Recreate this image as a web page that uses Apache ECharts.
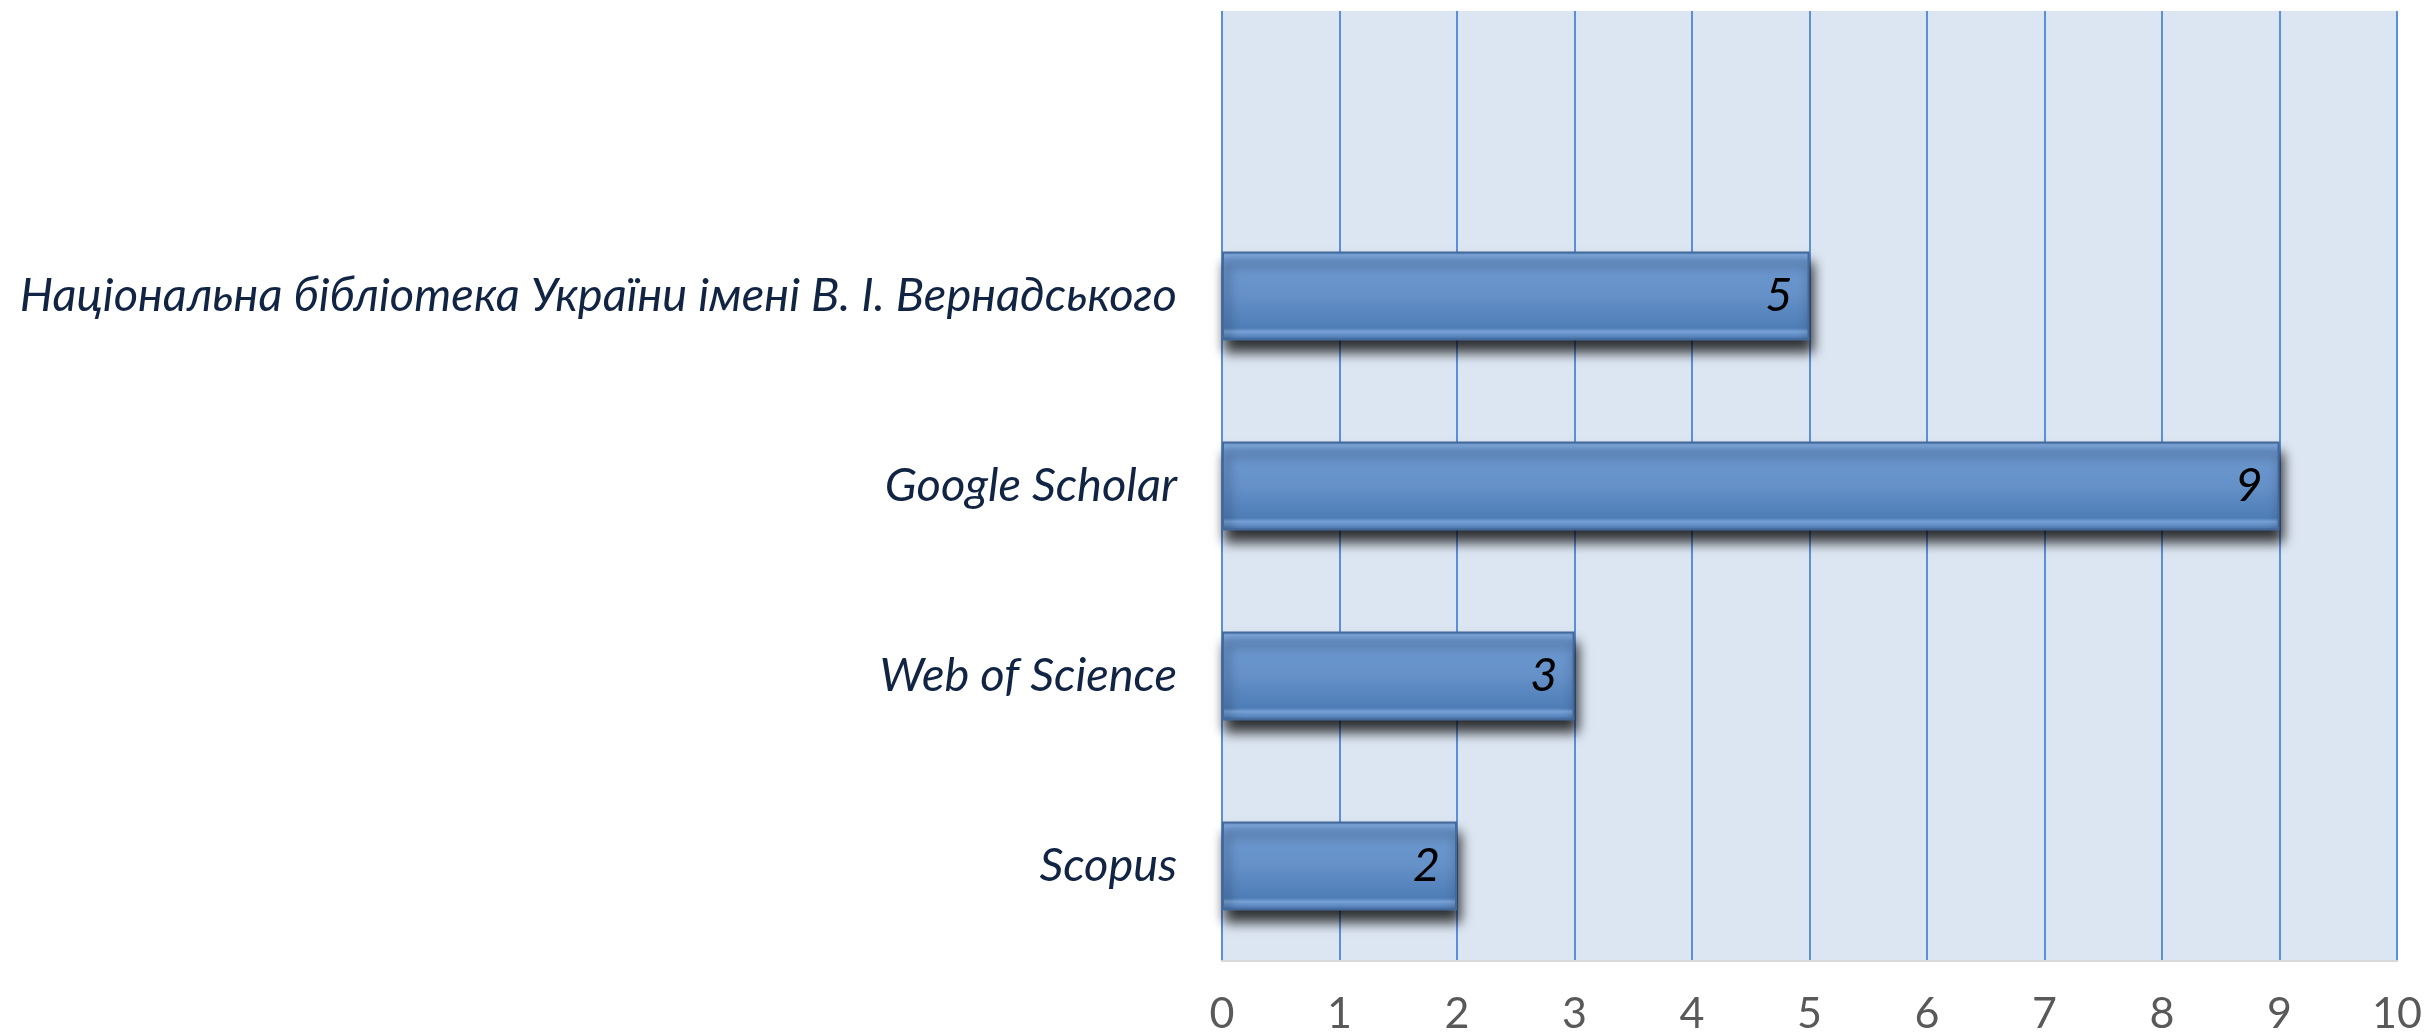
<!DOCTYPE html>
<html>
<head>
<meta charset="utf-8">
<script src="https://cdn.jsdelivr.net/npm/echarts@6/dist/echarts.min.js"></script>
<style>
    html, body { margin: 0; padding: 0; background: #ffffff; }
    #chart { width: 2425px; height: 1036px; }
</style>
</head>
<body>
<div id="chart"></div>
<script>
// categories from bottom to top, the top slot is empty in the original
var categories = ['Scopus', 'Web of Science', 'Google Scholar',
    'Національна бібліотека України імені В. І. Вернадського', ''];
var counts = [2, 3, 9, 5, '-'];
var xTicks = [0, 10, 1]; // min, max, interval

var barFill = new echarts.graphic.LinearGradient(0, 0, 0, 1, [
    {offset: 0, color: '#577fb3'},
    {offset: 0.04, color: '#7ea8dc'},
    {offset: 0.11, color: '#6c99d1'},
    {offset: 0.5, color: '#6590c8'},
    {offset: 0.86, color: '#4e7db6'},
    {offset: 0.9, color: '#77a1d6'},
    {offset: 0.96, color: '#5683bb'},
    {offset: 1, color: '#3d6393'}
]);

var option = {
    animation: false,
    grid: {
        left: 1222, right: 27, top: 11, bottom: 72,
        show: true,
        backgroundColor: '#dce6f2',
        borderWidth: 0
    },
    xAxis: {
        type: 'value',
        min: xTicks[0],
        max: xTicks[1],
        interval: xTicks[2],
        axisLine: {show: true, lineStyle: {color: '#d9d9d9', width: 2}},
        axisTick: {show: false},
        splitLine: {show: true, lineStyle: {color: '#5b8fdb', width: 2}},
        axisLabel: {
            color: '#595959',
            fontFamily: 'Lato',
            fontSize: 43,
            margin: 32
        }
    },
    yAxis: {
        type: 'category',
        data: categories,
        axisLine: {show: false},
        axisTick: {show: false},
        splitLine: {show: false},
        axisLabel: {
            color: '#112443',
            fontFamily: 'Lato',
            fontStyle: 'italic',
            fontSize: 47,
            margin: 45
        }
    },
    series: [
        {
            type: 'bar',
            data: counts,
            barWidth: 89,
            itemStyle: {
                color: barFill,
                borderColor: '#44699b',
                borderWidth: 2,
                shadowColor: 'rgba(0, 0, 0, 0.8)',
                shadowBlur: 12,
                shadowOffsetX: 3,
                shadowOffsetY: 11
            },
            label: {
                show: true,
                position: 'insideRight',
                distance: 17,
                color: '#000000',
                fontFamily: 'Lato',
                fontStyle: 'italic',
                fontSize: 47
            }
        }
    ]
};

var myChart = echarts.init(document.getElementById('chart'));
myChart.setOption(option);
</script>
</body>
</html>
